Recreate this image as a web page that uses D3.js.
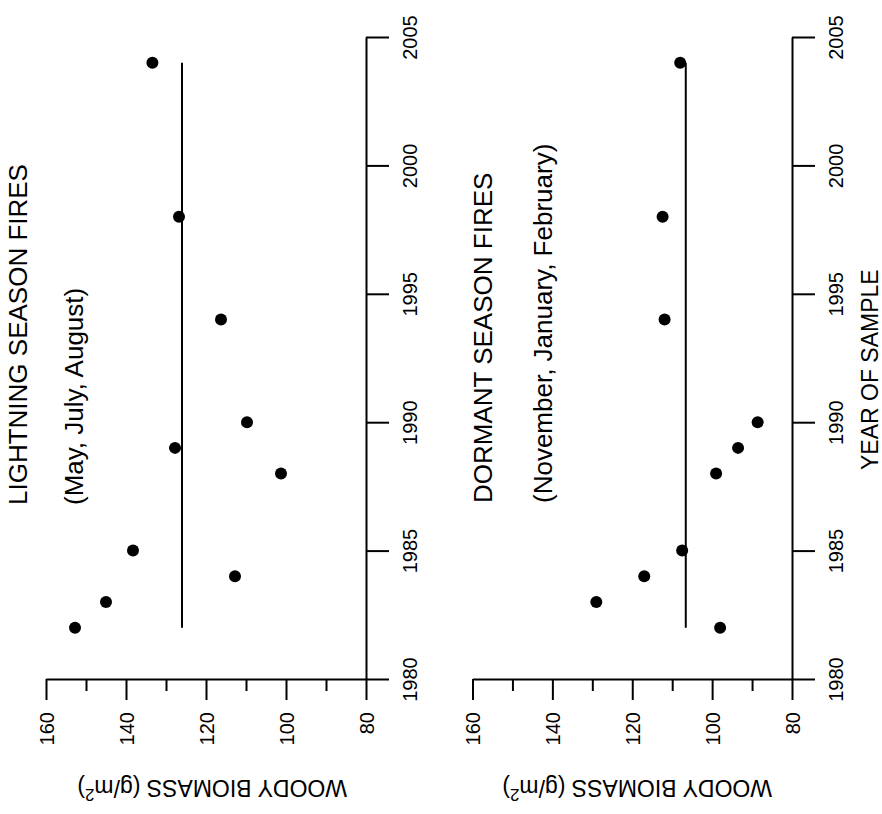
<!DOCTYPE html>
<html>
<head>
<meta charset="utf-8">
<script src="https://cdn.jsdelivr.net/npm/d3@7"></script>
<style>
  body { margin: 0; background: #fff; }
  svg { display: block; }
  text { font-family: "Liberation Sans", Arial, sans-serif; fill: #000; }
</style>
</head>
<body>
<div id="chart"></div>
<script>
// values
const sampleYears = [1982, 1983, 1984, 1985, 1988, 1989, 1990, 1994, 1998, 2004];
const lightningBiomass = [152.75, 145, 112.75, 138.25, 101.25, 127.75, 109.75, 116.25, 126.75, 133.4];
const dormantBiomass = [98, 129, 117, 107.5, 99, 93.5, 88.6, 111.9, 112.4, 108];
const lightningMean = 126;
const dormantMean = 106.6;
const yearTicks = [1980, 1985, 1990, 1995, 2000, 2005];
const biomassTicks = [80, 100, 120, 140, 160];
const biomassMinorTicks = [90, 110, 130, 150];

const width = 882;
const height = 814;

const svg = d3.select("#chart").append("svg")
  .attr("width", width)
  .attr("height", height);

// the figure is printed sideways: years run up the page
const yYear = d3.scaleLinear()
  .domain([1980, 2005])
  .range([679, 37]);

const panels = [
  {
    values: lightningBiomass, mean: lightningMean, left: 46, right: 366,
    title: "LIGHTNING SEASON FIRES", sub: "(May, July, August)",
    titleX: 27, subX: 83, titleY: 505, labelX: 347
  },
  {
    values: dormantBiomass, mean: dormantMean, left: 472.5, right: 792,
    title: "DORMANT SEASON FIRES", sub: "(November, January, February)",
    titleX: 492, subX: 552, titleY: 503, labelX: 772
  }
];

panels.forEach(renderPanel);

svg.append("text")
  .attr("transform", "translate(878,470) rotate(-90)")
  .style("font-size", "23px")
  .text("YEAR OF SAMPLE");

function renderPanel(p) {
  const xBio = d3.scaleLinear()
    .domain([160, 80])
    .range([p.left, p.right]);
  const g = svg.append("g");

  // year axis on the right side
  const yAxis = g.append("g")
    .attr("transform", `translate(${p.right},0)`)
    .call(d3.axisRight(yYear).tickValues(yearTicks).tickSize(23).tickSizeOuter(0).tickFormat(d3.format("d")));
  styleAxis(yAxis);
  yAxis.selectAll(".tick text")
    .attr("transform", "rotate(-90)")
    .attr("x", 0)
    .attr("y", 51)
    .attr("dy", null)
    .attr("text-anchor", "middle");

  // biomass axis along the bottom
  const xAxis = g.append("g")
    .attr("transform", "translate(0,679)")
    .call(d3.axisBottom(xBio).tickValues(biomassTicks).tickSize(21).tickSizeOuter(0));
  styleAxis(xAxis);
  xAxis.selectAll(".tick text")
    .attr("transform", "rotate(-90)")
    .attr("x", -33)
    .attr("y", 0)
    .attr("dy", "0.35em")
    .attr("text-anchor", "end");

  const minor = g.append("g")
    .attr("transform", "translate(0,679)")
    .call(d3.axisBottom(xBio).tickValues(biomassMinorTicks).tickSize(12).tickFormat(""));
  minor.select(".domain").remove();
  minor.selectAll(".tick line").attr("stroke-width", 2);

  // mean line
  const span = d3.extent(sampleYears);
  g.append("line")
    .attr("x1", xBio(p.mean))
    .attr("x2", xBio(p.mean))
    .attr("y1", yYear(span[0]))
    .attr("y2", yYear(span[1]))
    .attr("stroke", "#000")
    .attr("stroke-width", 2);

  g.selectAll("circle")
    .data(sampleYears.map((yr, i) => ({ year: yr, value: p.values[i] })))
    .enter()
    .append("circle")
    .attr("cx", d => xBio(d.value))
    .attr("cy", d => yYear(d.year))
    .attr("r", 6)
    .attr("fill", "#000");

  g.append("text")
    .attr("transform", `translate(${p.titleX},${p.titleY}) rotate(-90)`)
    .style("font-size", "26px")
    .text(p.title);
  g.append("text")
    .attr("transform", `translate(${p.subX},${p.titleY}) rotate(-90)`)
    .style("font-size", "26px")
    .text(p.sub);

  // axis title, upside down
  const label = g.append("text")
    .attr("transform", `translate(${p.labelX},780) rotate(180)`)
    .style("font-size", "23px");
  label.append("tspan").text("WOODY BIOMASS ");
  label.append("tspan").style("font-size", "23px").text("(g/m");
  label.append("tspan").style("font-size", "17px").attr("dy", "-0.5em").text("2");
  label.append("tspan").style("font-size", "23px").attr("dy", "0.37em").text(")");
}

function styleAxis(axis) {
  axis.attr("font-size", null).attr("font-family", null);
  axis.select(".domain").attr("stroke-width", 2);
  axis.selectAll(".tick line").attr("stroke-width", 2);
  axis.selectAll(".tick text").style("font-size", "20px");
}
</script>
</body>
</html>
